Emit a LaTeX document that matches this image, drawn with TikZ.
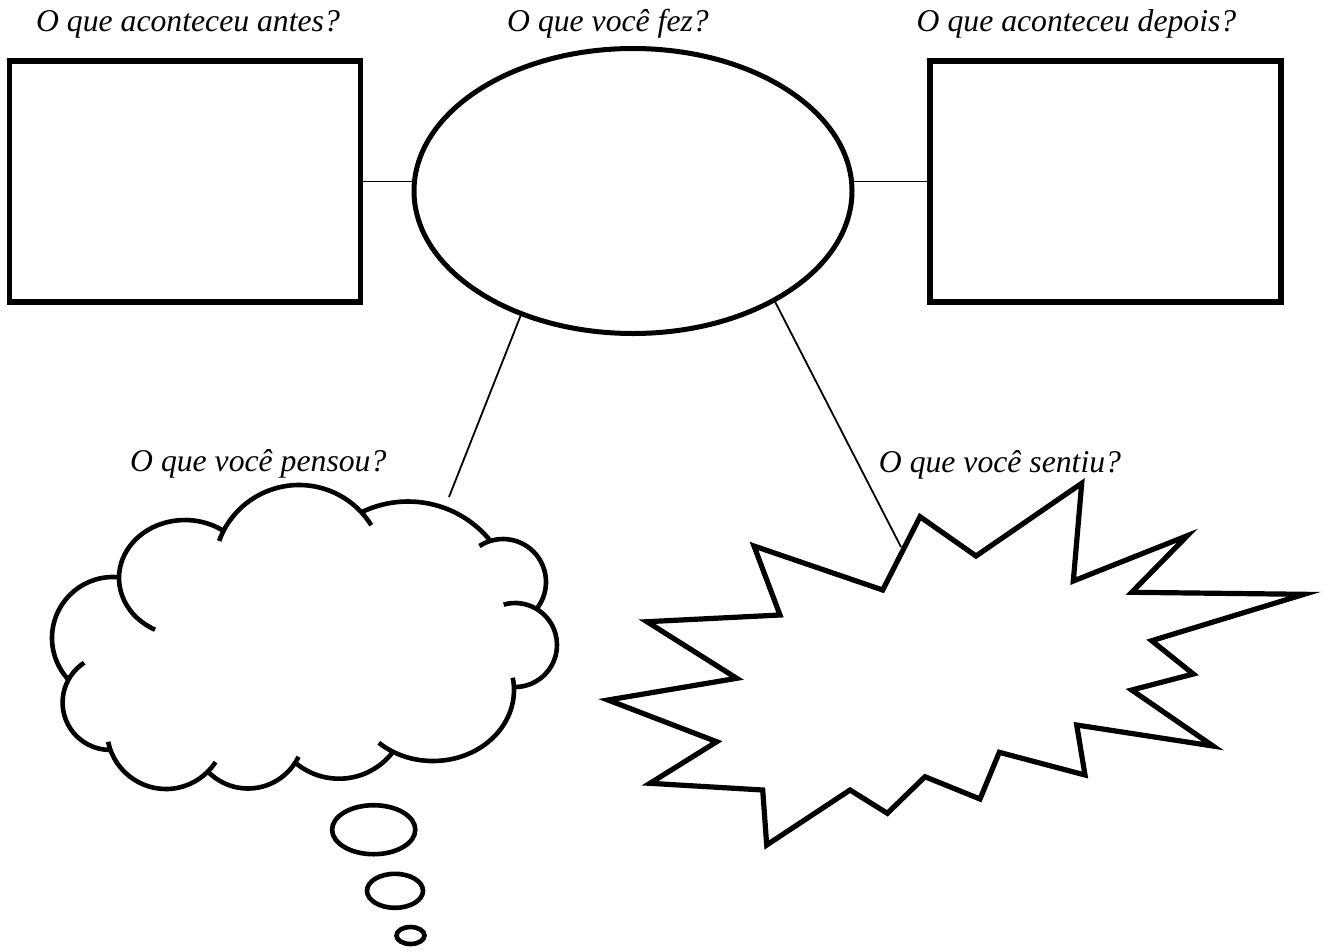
\documentclass[tikz,border=0pt]{standalone}
\usepackage{fontspec}
\setmainfont{Liberation Serif}
\usetikzlibrary{shapes.geometric}
\pgfdeclarelayer{paper}
\pgfdeclarelayer{links}
\pgfsetlayers{paper,links,main}
\tikzset{
 boxnode/.style={draw, fill=white, line width=5.8pt, minimum width=351pt, minimum height=241pt, inner sep=0pt},
 ellnode/.style={draw, fill=white, ellipse, line width=5pt, minimum width=438pt, minimum height=285pt, inner sep=0pt},
 conn/.style={line width=1.8pt},
 cloudstroke/.style={line width=4.6pt},
 burststroke/.style={line width=5.2pt, line join=miter},
 qlabel/.style={font=\itshape\fontsize{31.7}{38}\selectfont, anchor=base, inner sep=0pt},
}
\newcommand\cloudarc[6]{\draw[cloudstroke] ({#1+#3*cos(#5)},{#2+#4*sin(#5)}) arc[start angle=#5,end angle=#6,x radius=#3,y radius=#4];}
\begin{document}
\begin{tikzpicture}[x=1pt,y=-1pt]
\begin{pgfonlayer}{paper}
\fill[white] (0,0) rectangle (1328,951);
\end{pgfonlayer}
\useasboundingbox (0,0) rectangle (1328,951);
% labels
\node[qlabel] (t1) at (188,31.7) {O que aconteceu antes?};
\node[qlabel] (t2) at (608,31.7) {O que você fez?};
\node[qlabel] (t3) at (1076.5,31.7) {O que aconteceu depois?};
\node[qlabel] (t4) at (258.3,471.7) {O que você pensou?};
\node[qlabel] (t5) at (1000,472.3) {O que você sentiu?};
% main shapes
\node[boxnode] (before) at (185,181.5) {};
\node[boxnode] (after) at (1105.75,181.5) {};
\node[ellnode] (did) at (633,191) {};
\coordinate (cloudend) at (449,497);
\coordinate (burstend) at (901,547);
% connectors
\begin{pgfonlayer}{links}
\draw[conn] (before.center) -- (before.center -| did.center);
\draw[conn] (after.center) -- (after.center -| did.center);
\end{pgfonlayer}
\draw[conn] (did.-132.6) -- (cloudend);
\draw[conn] (did.-38.3) -- (burstend);
% cloud
\cloudarc{299}{570}{85}{85}{-160}{-31.8}
\cloudarc{185}{578}{66}{58}{117}{304.5}
\cloudarc{113}{638}{61}{61}{275.9}{136.9}
\cloudarc{110}{702.5}{47.4}{47.4}{237}{89.4}
\cloudarc{166}{730}{59}{59}{168.5}{32.9}
\cloudarc{248}{732.5}{56}{56}{135.7}{25.7}
\cloudarc{339}{711}{67.7}{67.7}{130.3}{37.5}
\cloudarc{433}{690}{81}{71}{132}{-10}
\cloudarc{515}{645}{42}{42}{-105.7}{92}
\cloudarc{503}{582}{43}{43}{-123.2}{38.8}
\cloudarc{408}{607.5}{106}{106}{-116.1}{-38.9}
% thought bubbles
\draw[cloudstroke] (373.7,829.7) ellipse[x radius=41.6pt, y radius=24.5pt];
\draw[cloudstroke] (395,890.8) ellipse[x radius=28pt, y radius=17pt];
\draw[cloudstroke] (410.5,935.5) ellipse[x radius=14pt, y radius=8.5pt];
% starburst
\draw[burststroke] (920,516.7) -- (976,556) -- (1081.7,483.3) -- (1073.3,581) -- (1187.3,535.7) -- (1131.7,592.3) -- (1304,594.3) -- (1151.7,640.7) -- (1193.3,674) -- (1131.7,690) -- (1213,746) -- (1076.7,725) -- (1085,775) -- (999.3,752.3) -- (980,799) -- (925,776.7) -- (887.3,813.3) -- (850,790) -- (766.7,845) -- (762.7,790) -- (650,783.3) -- (716.7,741.7) -- (608,700) -- (736.7,678.3) -- (647,621.7) -- (780,615) -- (754,546) -- (882.7,590) -- cycle;
\end{tikzpicture}
\end{document}
